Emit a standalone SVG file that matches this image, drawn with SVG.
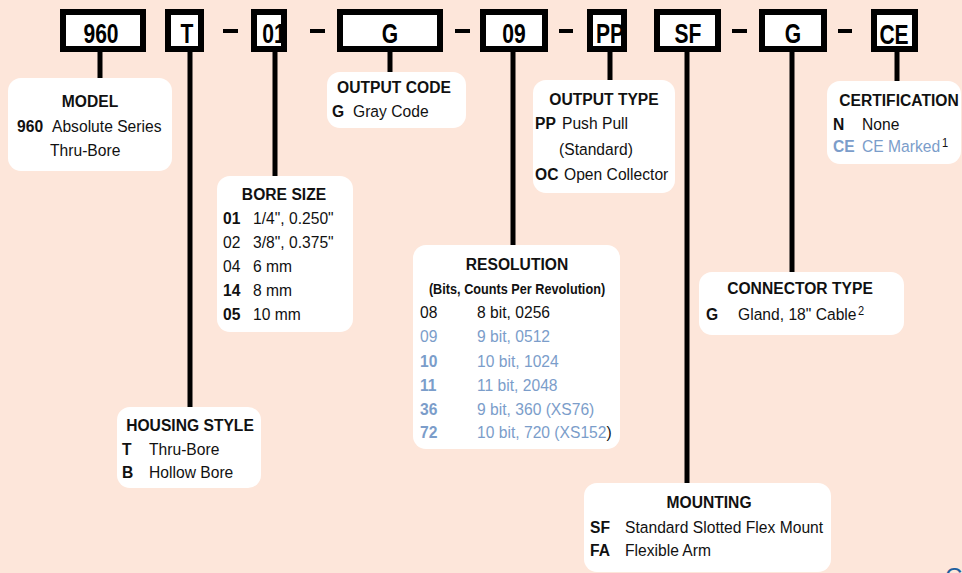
<svg xmlns="http://www.w3.org/2000/svg" width="962" height="573" viewBox="0 0 962 573">
<style>
.bg{fill:#fde6da}
.code{fill:#fff;stroke:#000;stroke-width:6}
.dash{fill:#000}
.box{fill:#fff}
.stem{stroke:#000;stroke-width:5;fill:none}
text{font-family:"Liberation Sans",Arial,sans-serif;font-size:17px;fill:#111}
.b{font-weight:bold}
.m{text-anchor:middle}
.big{font-size:27px;font-weight:bold;text-anchor:middle;fill:#000}
.sub{font-size:13.8px;font-weight:bold}
.sup{font-size:12px}
.blue{fill:#7b9dca}
</style>
<rect class="bg" x="0" y="0" width="962" height="573"/>
<g id="connectors">
<line class="stem" x1="100" y1="50" x2="100" y2="80"/>
<line class="stem" x1="190" y1="50" x2="190" y2="409"/>
<line class="stem" x1="275" y1="50" x2="275" y2="178"/>
<line class="stem" x1="390" y1="50" x2="390" y2="74"/>
<line class="stem" x1="513" y1="50" x2="513" y2="247"/>
<line class="stem" x1="610" y1="50" x2="610" y2="82"/>
<line class="stem" x1="687" y1="50" x2="687" y2="485"/>
<line class="stem" x1="792" y1="50" x2="792" y2="274"/>
<line class="stem" x1="897" y1="50" x2="897" y2="83"/>
</g>
<g id="separators">
<rect class="dash" x="223" y="29" width="15" height="4"/>
<rect class="dash" x="310" y="29" width="15" height="4"/>
<rect class="dash" x="455" y="29" width="15" height="4"/>
<rect class="dash" x="559" y="29" width="14" height="4"/>
<rect class="dash" x="732" y="29" width="15" height="4"/>
<rect class="dash" x="838" y="29" width="14" height="4"/>
</g>
<g id="code-960"><rect class="code" x="63" y="12" width="80" height="37"/><text class="big" transform="translate(101,43) scale(0.78,1)">960</text></g>
<g id="code-T"><rect class="code" x="168" y="12" width="33" height="37"/><text class="big" transform="translate(187,43) scale(0.78,1)">T</text></g>
<g id="code-01"><rect class="code" x="254" y="12" width="30" height="37"/><text class="big" transform="translate(274,43) scale(0.78,1)">01</text></g>
<g id="code-G"><rect class="code" x="340" y="12" width="100" height="37"/><text class="big" transform="translate(390,43) scale(0.78,1)">G</text></g>
<g id="code-09"><rect class="code" x="483" y="12" width="62" height="37"/><text class="big" transform="translate(514,43) scale(0.78,1)">09</text></g>
<g id="code-PP"><rect class="code" x="590" y="12" width="34" height="37"/><text class="big" transform="translate(610,43) scale(0.78,1)">PP</text></g>
<g id="code-SF"><rect class="code" x="657" y="12" width="61" height="37"/><text class="big" transform="translate(688,43) scale(0.78,1)">SF</text></g>
<g id="code-G2"><rect class="code" x="762" y="12" width="62" height="37"/><text class="big" transform="translate(793,43) scale(0.78,1)">G</text></g>
<g id="code-CE"><rect class="code" x="874" y="12" width="41" height="37"/><text class="big" transform="translate(894,44) scale(0.78,1)">CE</text></g>

<g id="model">
<rect class="box" x="8" y="78" width="164" height="93" rx="13"/>
<text class="b m" transform="translate(90,107) scale(0.92,1)">MODEL</text>
<text class="b" transform="translate(17,132) scale(0.92,1)">960</text>
<text transform="translate(52,132) scale(0.92,1)">Absolute Series</text>
<text transform="translate(50,156) scale(0.92,1)">Thru-Bore</text>
</g>
<g id="output-code">
<rect class="box" x="327" y="72" width="139" height="56" rx="13"/>
<text class="b m" transform="translate(394,93) scale(0.92,1)">OUTPUT CODE</text>
<text class="b" transform="translate(332,117) scale(0.92,1)">G</text>
<text transform="translate(353,117) scale(0.92,1)">Gray Code</text>
</g>
<g id="bore-size">
<rect class="box" x="217" y="176" width="136" height="156" rx="13"/>
<text class="b m" transform="translate(284,200) scale(0.92,1)">BORE SIZE</text>
<text class="b" transform="translate(223,224) scale(0.92,1)">01</text>
<text transform="translate(253,224) scale(0.92,1)">1/4", 0.250"</text>
<text transform="translate(223,248) scale(0.92,1)">02</text>
<text transform="translate(253,248) scale(0.92,1)">3/8", 0.375"</text>
<text transform="translate(223,272) scale(0.92,1)">04</text>
<text transform="translate(253,272) scale(0.92,1)">6 mm</text>
<text class="b" transform="translate(223,296) scale(0.92,1)">14</text>
<text transform="translate(253,296) scale(0.92,1)">8 mm</text>
<text class="b" transform="translate(223,320) scale(0.92,1)">05</text>
<text transform="translate(253,320) scale(0.92,1)">10 mm</text>
</g>
<g id="output-type">
<rect class="box" x="533" y="80" width="142" height="113" rx="13"/>
<text class="b m" transform="translate(604,105) scale(0.92,1)">OUTPUT TYPE</text>
<text class="b" transform="translate(535,129) scale(0.92,1)">PP</text>
<text transform="translate(562,129) scale(0.92,1)">Push Pull</text>
<text transform="translate(559,155) scale(0.92,1)">(Standard)</text>
<text class="b" transform="translate(535,180) scale(0.92,1)">OC</text>
<text transform="translate(564,180) scale(0.92,1)">Open Collector</text>
</g>
<g id="certification">
<rect class="box" x="827" y="81" width="134" height="83" rx="13"/>
<text class="b m" transform="translate(899,106) scale(0.92,1)">CERTIFICATION</text>
<text class="b" transform="translate(833,130) scale(0.92,1)">N</text>
<text transform="translate(862,130) scale(0.92,1)">None</text>
<text class="b blue" transform="translate(833,152) scale(0.92,1)">CE</text>
<text class="blue" transform="translate(862,152) scale(0.92,1)">CE Marked</text>
<text class="sup" transform="translate(942,147) scale(0.92,1)">1</text>
</g>
<g id="resolution">
<rect class="box" x="413" y="245" width="207" height="204" rx="13"/>
<text class="b m" transform="translate(517,270) scale(0.92,1)">RESOLUTION</text>
<text class="sub m" transform="translate(517,294) scale(0.92,1)">(Bits, Counts Per Revolution)</text>
<text transform="translate(420,318) scale(0.92,1)">08</text>
<text transform="translate(477,318) scale(0.92,1)">8 bit, 0256</text>
<text class="blue" transform="translate(420,342) scale(0.92,1)">09</text>
<text class="blue" transform="translate(477,342) scale(0.92,1)">9 bit, 0512</text>
<text class="b blue" transform="translate(420,367) scale(0.92,1)">10</text>
<text class="blue" transform="translate(477,367) scale(0.92,1)">10 bit, 1024</text>
<text class="b blue" transform="translate(420,391) scale(0.92,1)">11</text>
<text class="blue" transform="translate(477,391) scale(0.92,1)">11 bit, 2048</text>
<text class="b blue" transform="translate(420,415) scale(0.92,1)">36</text>
<text class="blue" transform="translate(477,415) scale(0.92,1)">9 bit, 360 (XS76)</text>
<text class="b blue" transform="translate(420,438) scale(0.92,1)">72</text>
<text transform="translate(477,438) scale(0.92,1)"><tspan class="blue">10 bit, 720 (XS152</tspan>)</text>
</g>
<g id="connector-type">
<rect class="box" x="699" y="272" width="205" height="63" rx="13"/>
<text class="b m" transform="translate(800,294) scale(0.92,1)">CONNECTOR TYPE</text>
<text class="b" transform="translate(706,320) scale(0.92,1)">G</text>
<text transform="translate(738,320) scale(0.92,1)">Gland, 18" Cable</text>
<text class="sup" transform="translate(858,315) scale(0.92,1)">2</text>
</g>
<g id="housing-style">
<rect class="box" x="117" y="407" width="144" height="81" rx="13"/>
<text class="b m" transform="translate(190,431) scale(0.92,1)">HOUSING STYLE</text>
<text class="b" transform="translate(122,455) scale(0.92,1)">T</text>
<text transform="translate(149,455) scale(0.92,1)">Thru-Bore</text>
<text class="b" transform="translate(122,478) scale(0.92,1)">B</text>
<text transform="translate(149,478) scale(0.92,1)">Hollow Bore</text>
</g>
<g id="mounting">
<rect class="box" x="584" y="483" width="247" height="89" rx="13"/>
<text class="b m" transform="translate(709,508) scale(0.92,1)">MOUNTING</text>
<text class="b" transform="translate(590,533) scale(0.92,1)">SF</text>
<text transform="translate(625,533) scale(0.92,1)">Standard Slotted Flex Mount</text>
<text class="b" transform="translate(590,556) scale(0.92,1)">FA</text>
<text transform="translate(625,556) scale(0.92,1)">Flexible Arm</text>
</g>
<text x="945" y="585" style="font-size:24px;fill:#1f5f9f">C</text>
</svg>
